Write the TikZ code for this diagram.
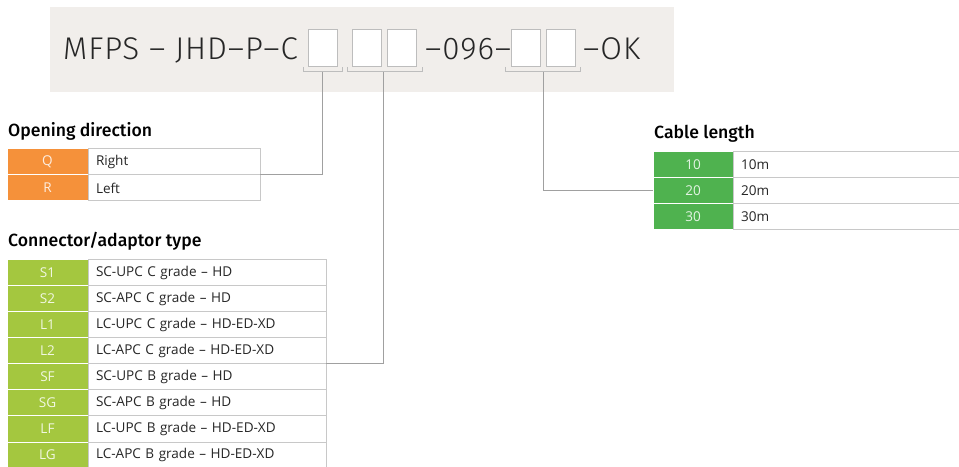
\documentclass[tikz,border=0pt]{standalone}
\usepackage{fontspec}
\setmainfont{Open Sans}
\newfontfamily\titlefont{Fira Sans Light}[LetterSpace=3]
\newfontfamily\headfont{Fira Sans Medium}
\definecolor{bgGrey}{HTML}{F1EEEB}
\definecolor{boxLine}{HTML}{BDBDBD}
\definecolor{orangeC}{HTML}{F5913A}
\definecolor{limeC}{HTML}{A4C73F}
\definecolor{greenC}{HTML}{4FB24F}
\definecolor{lineGrey}{HTML}{A0A0A0}
\definecolor{tableLine}{HTML}{C8C8C8}
\definecolor{txt}{HTML}{262626}
\tikzset{
  codecell/.style={fill=#1, draw=white, line width=1bp, minimum width=81bp, minimum height=26bp,
    inner sep=0pt, outer sep=0pt, anchor=north west, text=white!85!#1,
    font=\fontsize{13.6}{13.6}\selectfont},
  desccell/.style={fill=white, draw=tableLine, line width=1bp, text width=#1, minimum height=26bp,
    inner xsep=8bp, inner ysep=0pt, outer sep=0pt, anchor=north west, align=left, text=txt,
    font=\fontsize{13.6}{13.6}\selectfont},
  slot/.style={fill=white, draw=boxLine, line width=1bp, minimum width=29bp, minimum height=37bp,
    inner sep=0pt, anchor=north west},
  titletext/.style={anchor=base west, inner sep=0pt, text=txt, font=\titlefont\fontsize{31.5}{31.5}\selectfont},
  headtext/.style={anchor=base west, inner sep=0pt, text=black, font=\headfont\fontsize{17.7}{17.7}\selectfont},
  bracket/.style={draw=boxLine, line width=1bp},
  conn/.style={draw=lineGrey, line width=1bp},
}
\begin{document}
\begin{tikzpicture}[x=1bp,y=-1bp]
\useasboundingbox (0,0) rectangle (959,467);
% header band
\node[fill=bgGrey, minimum width=624bp, minimum height=85bp, anchor=north west, inner sep=0pt] (band) at (50,7) {};
\node[titletext] (t1) at (63,60) {MFPS – JHD–P–C};
\node[titletext] (t2) at (425,60) {–096–};
\node[titletext] (t3) at (583,60) {–OK};
\node[slot] (s1) at (308,29) {};
\node[slot] (s2) at (352,29) {};
\node[slot] (s3) at (387,29) {};
\node[slot] (s4) at (511,29) {};
\node[slot] (s5) at (546,29) {};
% brackets
\draw[bracket] (303,67) |- (342,72) -- (342,67);
\draw[bracket] (347,67) |- (422,72) -- (422,67);
\draw[bracket] (505,67) |- (580,72) -- (580,67);
\coordinate (br1) at (322,72);
\coordinate (br2) at (383,72);
\coordinate (br3) at (543,72);
% Opening direction
\node[headtext] (h1) at (8,137) {Opening direction};
\node[codecell=orangeC] (cQ) at (7,149) {Q};
\node[desccell=156bp] (dQ) at (88,149) {Right};
\node[codecell=orangeC] (cR) at (7,175) {R};
\node[desccell=156bp] (dR) at (88,175) {Left};
% Connector/adaptor type
\node[headtext] (h2) at (8,247) {Connector/adaptor type};
\foreach \c/\d [count=\i from 0] in {S1/SC-UPC C grade – HD, S2/SC-APC C grade – HD,
   L1/LC-UPC C grade – HD-ED-XD, L2/LC-APC C grade – HD-ED-XD,
   SF/SC-UPC B grade – HD, SG/SC-APC B grade – HD,
   LF/LC-UPC B grade – HD-ED-XD, LG/LC-APC B grade – HD-ED-XD}{
  \node[codecell=limeC] (c\c) at (7,260+26*\i) {\c};
  \node[desccell=222bp] (d\c) at (88,260+26*\i) {\d};
}
% Cable length
\node[headtext] (h3) at (654,139) {Cable length};
\foreach \c [count=\i from 0] in {10,20,30}{
  \node[codecell=greenC, minimum width=80bp] (c\c) at (653,152+26*\i) {\c};
  \node[desccell=212bp] (d\c) at (733,152+26*\i) {\c m};
}
% connectors
\draw[conn] (br1) |- (dQ.south east);
\draw[conn] (br2) |- (dL2.south east);
\draw[conn] (br3) |- (c20.west);
\end{tikzpicture}
\end{document}
